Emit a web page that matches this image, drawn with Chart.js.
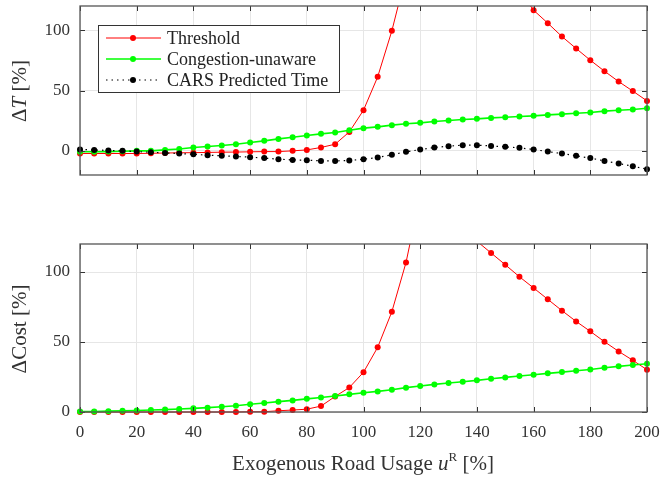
<!DOCTYPE html>
<html>
<head>
<meta charset="utf-8">
<script src="https://cdn.jsdelivr.net/npm/chart.js@4.4.1/dist/chart.umd.min.js"></script>
<style>
  body { margin: 0; background: #fff; }
  #wrap { position: relative; width: 660px; height: 477px; font-family: "Liberation Serif", serif; color: #333; }
  .box { position: absolute; left: 0; width: 660px; }
  .ylab { position: absolute; font-size: 21px; white-space: nowrap; transform: translate(-50%, -50%) rotate(-90deg); }
  .xlab { position: absolute; font-size: 21px; white-space: nowrap; transform: translate(-50%, -50%); }
  sup { font-size: 13px; vertical-align: 9px; line-height: 0; }
</style>
</head>
<body>
<div id="wrap">
  <div class="box" style="top:0;height:200px"><canvas id="timeChart"></canvas></div>
  <div class="box" style="top:200px;height:277px"><canvas id="costChart"></canvas></div>
  <div class="ylab" style="left:19px;top:91px">Δ<i>T</i> [%]</div>
  <div class="ylab" style="left:19px;top:329px">ΔCost [%]</div>
  <div class="xlab" style="left:363px;top:463px">Exogenous Road Usage <i>u</i><sup>R</sup> [%]</div>
</div>
<script>
// donnees
const uR = [0, 5, 10, 15, 20, 25, 30, 35, 40, 45, 50, 55, 60, 65, 70, 75, 80, 85, 90, 95, 100,
  105, 110, 115, 120, 125, 130, 135, 140, 145, 150, 155, 160, 165, 170, 175, 180, 185, 190, 195, 200];

const dT_threshold = [-2.2, -2.2, -2.2, -2.2, -2.2, -2, -1.8, -1.6, -1.5, -1.3, -1.1, -1, -0.8, -0.6, -0.6, 0, 0.8, 2.8, 5.5, 15.7, 33.7,
  61.3, 99.4, 146, 175, 190, 188, 175, 162, 150, 145, 133, 116.5, 105.8, 94.7, 84.8, 75.1, 66, 57.4, 49.5, 41.4];
const dT_unaware = [-0.8, -0.8, -0.6, -0.3, 0, 0, 0.8, 1.6, 2.8, 3.6, 4.4, 5.5, 6.9, 8.3, 9.9, 11.3, 12.7, 14.1, 15.2, 17.1, 18.8,
  19.9, 21.3, 22.4, 23.2, 24.3, 25.1, 26, 26.5, 27.3, 27.9, 28.5, 29, 29.8, 30.4, 31.2, 31.8, 32.9, 33.7, 34.2, 35.3];
const dT_cars = [1.1, 0.8, 0.3, 0, -0.6, -1.1, -1.7, -2.2, -2.8, -3.6, -4.1, -4.7, -5.2, -6, -6.9, -7.5, -7.7, -8.3, -8.3, -8, -6.9,
  -5.5, -3.3, -0.8, 1.1, 2.8, 3.9, 4.7, 4.7, 4.1, 3.3, 2.5, 1.1, -0.6, -2.2, -4.1, -6, -8.3, -10.5, -12.7, -15.2];

const cost_threshold = [0, 0, 0, 0, 0, 0, 0, 0, 0, 0, 0, 0, 0.2, 0.2, 0.9, 1.4, 2, 4.2, 11.1, 17.5, 28.4,
  46.2, 71.6, 106.8, 155, 165, 150, 132, 122, 113.6, 105.2, 96.6, 88.6, 80.5, 72.4, 64.7, 57.6, 50.2, 43.3, 36.9, 30.2];
const cost_unaware = [0.4, 0.4, 0.6, 0.9, 1.1, 1.4, 1.7, 2.1, 2.6, 3.1, 3.8, 4.5, 5.5, 6.4, 7.4, 8.3, 9.4, 10.4, 11.4, 12.6, 13.7,
  14.7, 15.9, 17.4, 18.6, 19.7, 20.7, 21.6, 22.6, 23.8, 24.7, 25.7, 26.6, 27.6, 28.5, 29.5, 30.4, 31.6, 32.6, 33.6, 34.5];

const xTicks = [0, 20, 40, 60, 80, 100, 120, 140, 160, 180, 200];
const yTicks = [0, 50, 100];
const legendLabels = ['Threshold', 'Congestion-unaware', 'CARS Predicted Time'];

const FONT = '"Liberation Serif", serif';
const TXT = '#333';

function pts(arr) {
  return uR.map((u, i) => ({ x: u, y: arr[i] }));
}

function ds(label, arr, color, width, dash, order) {
  return {
    label: label,
    data: pts(arr),
    borderColor: color,
    backgroundColor: color,
    borderWidth: width,
    borderDash: dash,
    pointRadius: 3,
    pointBorderWidth: 0,
    pointBackgroundColor: color,
    tension: 0,
    order: order,
    clip: { left: 5, right: 5, top: 0, bottom: 5 }
  };
}

// cadre + graduations vers l'interieur (style MATLAB)
const boxPlugin = {
  id: 'box',
  afterDraw(chart) {
    const { ctx, chartArea: a } = chart;
    const xs = chart.scales.x, ys = chart.scales.y;
    ctx.save();
    ctx.strokeStyle = '#333';
    ctx.lineWidth = 1;
    ctx.beginPath();
    xTicks.forEach(v => {
      const px = Math.round(xs.getPixelForValue(v)) + 0.5;
      ctx.moveTo(px, a.top); ctx.lineTo(px, a.top + 5);
      ctx.moveTo(px, a.bottom); ctx.lineTo(px, a.bottom - 5);
    });
    yTicks.forEach(v => {
      const py = Math.round(ys.getPixelForValue(v)) + 0.5;
      ctx.moveTo(a.left, py); ctx.lineTo(a.left + 5, py);
      ctx.moveTo(a.right, py); ctx.lineTo(a.right - 5, py);
    });
    ctx.stroke();
    ctx.strokeStyle = '#555';
    ctx.lineWidth = 1.3;
    ctx.strokeRect(a.left, a.top, a.right - a.left, a.bottom - a.top);
    ctx.restore();
  }
};

// legende dans le graphique du haut
const legendPlugin = {
  id: 'boxLegend',
  afterDraw(chart) {
    if (chart.canvas.id !== 'timeChart') return;
    const ctx = chart.ctx;
    const x0 = 98, y0 = 25, w = 241, h = 67;
    ctx.save();
    ctx.fillStyle = '#fff';
    ctx.fillRect(x0, y0, w, h);
    ctx.strokeStyle = '#333';
    ctx.lineWidth = 1;
    ctx.strokeRect(x0 + 0.5, y0 + 0.5, w, h);
    const rows = [38, 59, 80];
    chart.data.datasets.forEach((d, i) => {
      const y = rows[i];
      ctx.strokeStyle = d.borderColor;
      ctx.lineWidth = d.borderWidth;
      ctx.setLineDash(d.borderDash || []);
      ctx.beginPath();
      ctx.moveTo(106, y); ctx.lineTo(161, y);
      ctx.stroke();
      ctx.setLineDash([]);
      ctx.fillStyle = d.borderColor;
      ctx.beginPath();
      ctx.arc(133, y, 3, 0, Math.PI * 2);
      ctx.fill();
      ctx.fillStyle = '#222';
      ctx.font = '18px ' + FONT;
      ctx.textBaseline = 'middle';
      ctx.fillText(legendLabels[i], 167, y + 1);
    });
    ctx.restore();
  }
};

function noPad(s) {
  s.paddingLeft = 0; s.paddingRight = 0; s.paddingTop = 0; s.paddingBottom = 0;
}

function makeOptions(yMin, yMax, showX, padTop, xHeight) {
  return {
    responsive: true,
    maintainAspectRatio: false,
    animation: false,
    layout: { padding: { top: padTop, right: 13, left: 0, bottom: 0 } },
    plugins: { legend: { display: false }, tooltip: { enabled: false } },
    scales: {
      x: {
        type: 'linear', min: 0, max: 200,
        afterBuildTicks: s => { s.ticks = xTicks.map(v => ({ value: v })); },
        afterFit: s => { s.height = xHeight; noPad(s); },
        grid: { color: '#e6e6e6', drawTicks: false },
        border: { display: false },
        ticks: { display: showX, padding: 10, color: TXT, font: { family: FONT, size: 17 } }
      },
      y: {
        min: yMin, max: yMax,
        afterBuildTicks: s => { s.ticks = yTicks.map(v => ({ value: v })); },
        afterFit: s => { s.width = 80; noPad(s); },
        grid: { color: '#e6e6e6', drawTicks: false },
        border: { display: false },
        ticks: { padding: 10, color: TXT, font: { family: FONT, size: 17 } }
      }
    }
  };
}

new Chart(document.getElementById('timeChart'), {
  type: 'line',
  data: {
    datasets: [
      ds('Threshold', dT_threshold, '#ff0000', 1, [], 3),
      ds('Congestion-unaware', dT_unaware, '#00ff00', 1.6, [], 2),
      ds('CARS Predicted Time', dT_cars, '#000000', 1.2, [1.5, 4], 1)
    ]
  },
  options: makeOptions(-20, 120, false, 6, 25),
  plugins: [boxPlugin, legendPlugin]
});

new Chart(document.getElementById('costChart'), {
  type: 'line',
  data: {
    datasets: [
      ds('Threshold', cost_threshold, '#ff0000', 1, [], 3),
      ds('Congestion-unaware', cost_unaware, '#00ff00', 1.6, [], 2)
    ]
  },
  options: makeOptions(0, 120, true, 44, 65),
  plugins: [boxPlugin]
});
</script>
</body>
</html>
